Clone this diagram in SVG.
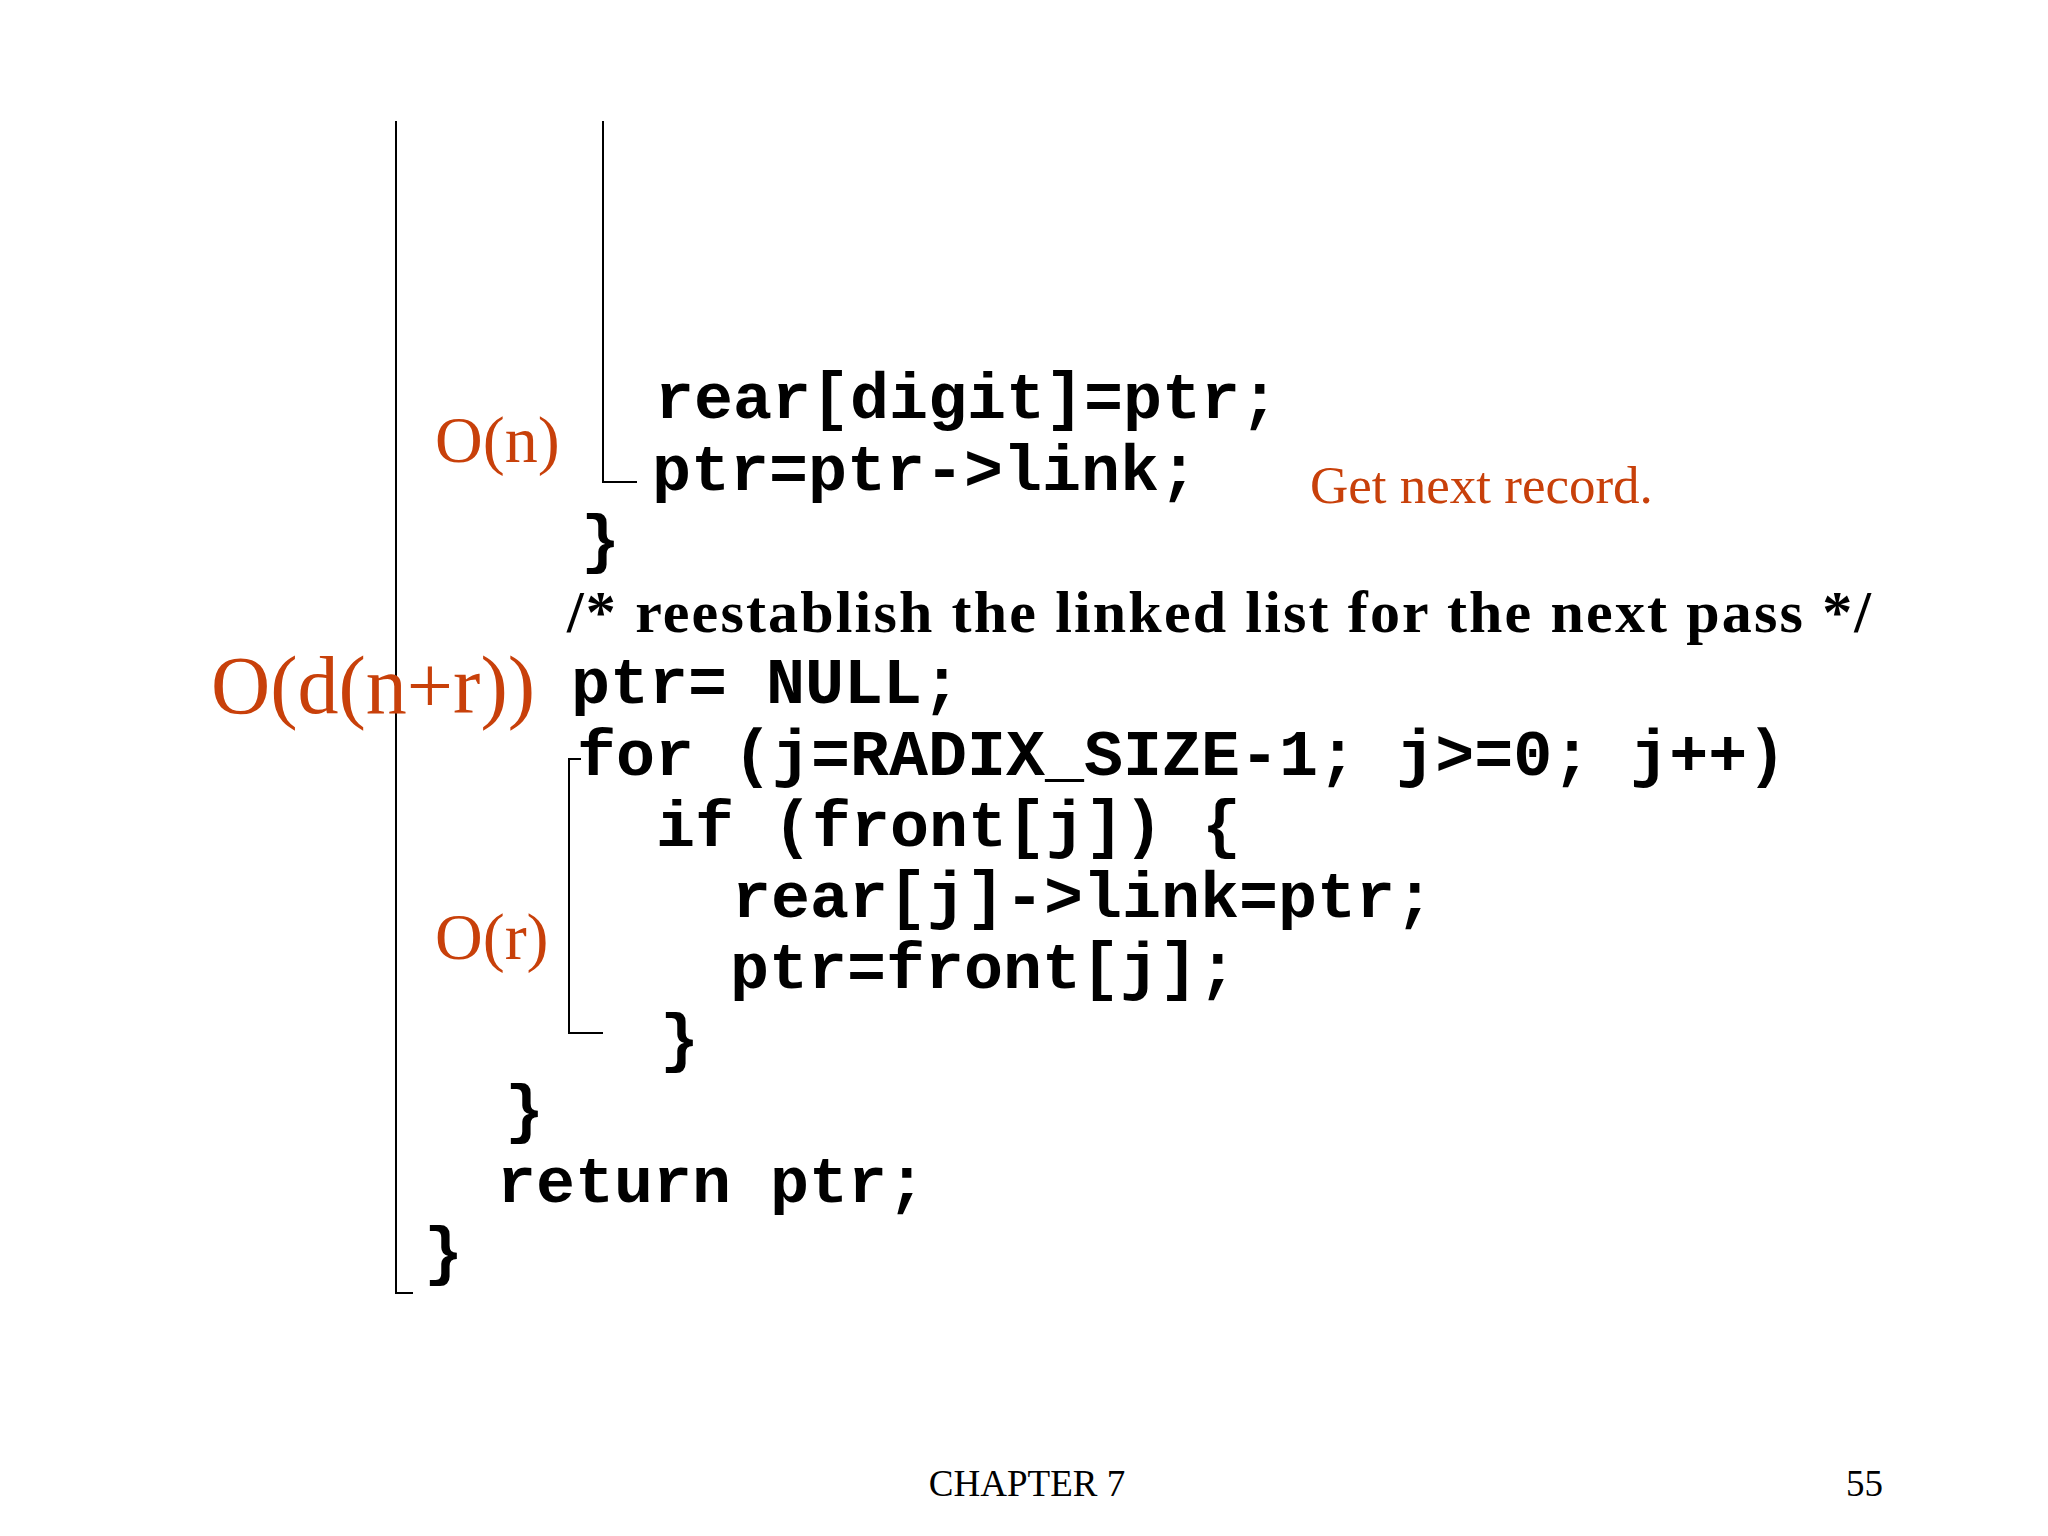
<svg xmlns="http://www.w3.org/2000/svg" width="2048" height="1536" viewBox="0 0 2048 1536">
<style>
.c{font-family:"Liberation Mono",monospace;font-weight:bold;font-size:65px;fill:#000}
.t{font-family:"Liberation Serif",serif;font-weight:bold;font-size:60px;fill:#000}
.r{font-family:"Liberation Serif",serif;fill:#C8400A}
.f{font-family:"Liberation Serif",serif;font-size:37px;fill:#000}
.l{stroke:#000;stroke-width:2;fill:none}
</style>
<rect width="2048" height="1536" fill="#fff"/>
<g id="brackets">
<path class="l" d="M396 121V1293H413"/>
<path class="l" d="M603 121V482H637"/>
<path class="l" d="M581 759H569V1033H603"/>
</g>
<g id="code">
<text class="c" x="655" y="418">rear[digit]=ptr;</text>
<text class="c" x="652" y="490">ptr=ptr-&gt;link;</text>
<text class="c" x="581" y="561">}</text>
<text class="t" x="567" y="632" textLength="1304">/* reestablish the linked list for the next pass */</text>
<text class="c" x="571" y="703">ptr= NULL;</text>
<text class="c" x="577" y="775">for (j=RADIX_SIZE-1; j&gt;=0; j++)</text>
<text class="c" x="656" y="846">if (front[j]) {</text>
<text class="c" x="732" y="917">rear[j]-&gt;link=ptr;</text>
<text class="c" x="730" y="988">ptr=front[j];</text>
<text class="c" x="660" y="1060">}</text>
<text class="c" x="505" y="1131">}</text>
<text class="c" x="497" y="1202">return ptr;</text>
<text class="c" x="424" y="1273">}</text>
</g>
<g id="labels">
<text class="r" x="435" y="462" font-size="66">O(n)</text>
<text class="r" x="1310" y="503" font-size="53">Get next record.</text>
<text class="r" x="211" y="713" font-size="82">O(d(n+r))</text>
<text class="r" x="435" y="959" font-size="66">O(r)</text>
</g>
<g id="footer">
<text class="f" x="1027" y="1496" text-anchor="middle">CHAPTER 7</text>
<text class="f" x="1846" y="1496">55</text>
</g>
</svg>
